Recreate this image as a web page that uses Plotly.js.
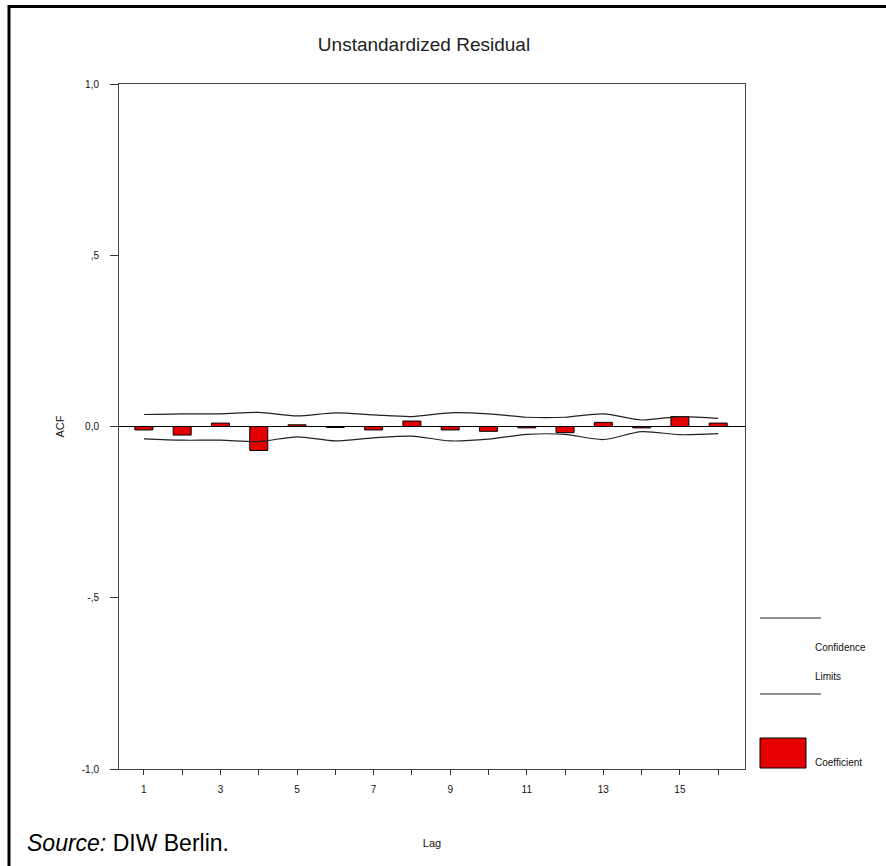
<!DOCTYPE html>
<html>
<head>
<meta charset="utf-8">
<script src="https://cdn.plot.ly/plotly-3.0.1.min.js"></script>
<style>html,body{margin:0;padding:0;background:#fff;}#chart{width:886px;height:866px;}</style>
</head>
<body>
<div id="chart"></div>
<script>
// ---- data ----
var lags = [1, 2, 3, 4, 5, 6, 7, 8, 9, 10, 11, 12, 13, 14, 15, 16];
var acfCoefficient = [-0.010, -0.025, 0.010, -0.070, 0.005, -0.003, -0.010, 0.016, -0.010, -0.014, -0.004, -0.018, 0.012, -0.004, 0.029, 0.010];
var upperLimit = [0.035, 0.037, 0.037, 0.041, 0.031, 0.040, 0.034, 0.029, 0.040, 0.037, 0.027, 0.027, 0.037, 0.019, 0.029, 0.024];
var lowerLimit = [-0.036, -0.040, -0.040, -0.044, -0.030, -0.042, -0.033, -0.028, -0.042, -0.037, -0.023, -0.023, -0.038, -0.015, -0.024, -0.021];
var xTickLabels = ["1", "", "3", "", "5", "", "7", "", "9", "", "11", "", "13", "", "15", ""];
var yTickVals = [-1, -0.5, 0, 0.5, 1];
var yTickLabels = ["-1,0", "-,5", "0,0", ",5", "1,0"];

// ---- layout helpers (pixel -> paper) ----
var W = 886, H = 866, L = 119, R = 141, T = 84, B = 97;
var PW = W - L - R, PH = H - T - B;
function X(px) { return (px - L) / PW; }
function Y(py) { return (H - B - py) / PH; }

var FONT = "Liberation Sans, Arial, sans-serif";
var lineCol = "#222222";
var red = "#e40000";

var traces = [
  {
    type: "bar", x: lags, y: acfCoefficient, width: 0.47,
    marker: {color: red, line: {color: "#000", width: 1}},
    name: "Coefficient", hoverinfo: "x+y"
  },
  {
    type: "scatter", mode: "lines", x: lags, y: upperLimit,
    line: {color: lineCol, width: 1.2, shape: "spline", smoothing: 0.8},
    name: "Upper limit", hoverinfo: "x+y"
  },
  {
    type: "scatter", mode: "lines", x: lags, y: lowerLimit,
    line: {color: lineCol, width: 1.2, shape: "spline", smoothing: 0.8},
    name: "Lower limit", hoverinfo: "x+y"
  }
];

var shapes = [
  // outer frame (left and top edges)
  {type: "line", xref: "paper", yref: "paper", x0: X(9), x1: X(9), y0: Y(5), y1: Y(870), line: {color: "#000", width: 3}},
  {type: "line", xref: "paper", yref: "paper", x0: X(8), x1: X(890), y0: Y(6.5), y1: Y(6.5), line: {color: "#000", width: 3}},
  // legend: confidence limit lines
  {type: "line", xref: "paper", yref: "paper", x0: X(760), x1: X(821), y0: Y(618), y1: Y(618), line: {color: lineCol, width: 1.2}},
  {type: "line", xref: "paper", yref: "paper", x0: X(760), x1: X(821), y0: Y(694), y1: Y(694), line: {color: lineCol, width: 1.2}},
  // legend: coefficient box
  {type: "rect", xref: "paper", yref: "paper", x0: X(760), x1: X(806), y0: Y(738), y1: Y(768), fillcolor: red, line: {color: "#000", width: 1}}
];

var annotations = [
  {xref: "paper", yref: "paper", x: X(813), y: Y(647), xanchor: "left", yanchor: "middle", text: "Confidence", showarrow: false, font: {family: FONT, size: 10, color: "#111"}},
  {xref: "paper", yref: "paper", x: X(813), y: Y(676), xanchor: "left", yanchor: "middle", text: "Limits", showarrow: false, font: {family: FONT, size: 10, color: "#111"}},
  {xref: "paper", yref: "paper", x: X(813), y: Y(762), xanchor: "left", yanchor: "middle", text: "Coefficient", showarrow: false, font: {family: FONT, size: 10, color: "#111"}},
  {xref: "paper", yref: "paper", x: X(25), y: Y(843), xanchor: "left", yanchor: "middle", text: "<i>Source:</i> DIW Berlin.", showarrow: false, font: {family: FONT, size: 23, color: "#000"}}
];

var layout = {
  width: W, height: H,
  margin: {l: L, r: R, t: T, b: B, pad: 0},
  paper_bgcolor: "#fff", plot_bgcolor: "#fff",
  showlegend: false,
  bargap: 0,
  font: {family: FONT, size: 10, color: "#111"},
  title: {
    text: "Unstandardized Residual",
    font: {family: FONT, size: 19, color: "#222"},
    xref: "paper", x: X(424), xanchor: "center",
    yref: "container", y: 1 - 44 / H, yanchor: "middle"
  },
  xaxis: {
    range: [0.35, 16.7],
    tickmode: "array", tickvals: lags, ticktext: xTickLabels,
    ticks: "outside", ticklen: 5, tickwidth: 1, tickcolor: "#333",
    showline: true, linecolor: "#444", linewidth: 1, mirror: true,
    showgrid: false, zeroline: false,
    tickfont: {family: FONT, size: 10, color: "#111"},
    ticklabelstandoff: 6,
    title: {text: "Lag", font: {family: FONT, size: 11, color: "#111"}, standoff: 45},
    fixedrange: true
  },
  yaxis: {
    range: [-1, 1],
    tickmode: "array", tickvals: yTickVals, ticktext: yTickLabels,
    ticks: "outside", ticklen: 8, tickwidth: 1, tickcolor: "#333",
    showline: true, linecolor: "#444", linewidth: 1, mirror: true,
    showgrid: false,
    zeroline: true, zerolinecolor: "#000", zerolinewidth: 1.3,
    tickfont: {family: FONT, size: 10, color: "#111"},
    ticklabelstandoff: 9,
    title: {text: "ACF", font: {family: FONT, size: 11, color: "#111"}, standoff: 14},
    fixedrange: true
  },
  shapes: shapes,
  annotations: annotations
};

Plotly.newPlot("chart", traces, layout, {displayModeBar: false, staticPlot: true});
</script>
</body>
</html>
